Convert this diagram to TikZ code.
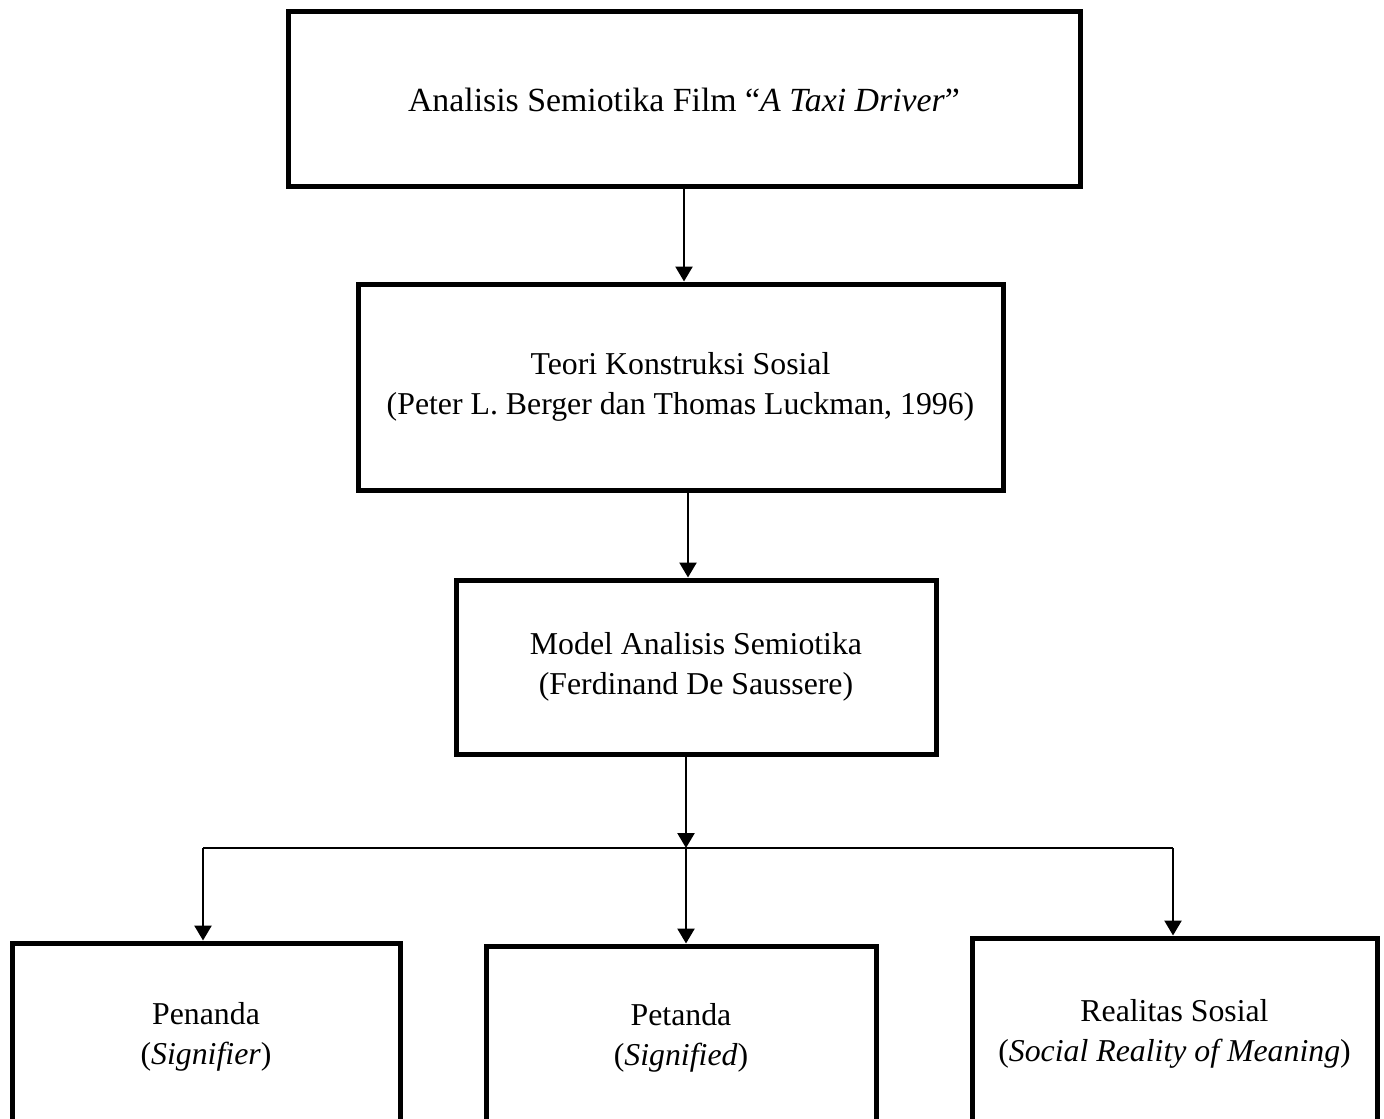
\documentclass[tikz,border=0pt]{standalone}
\usepackage{fontspec}
\setmainfont{Liberation Serif}
\usetikzlibrary{arrows.meta,calc}
\begin{document}
\begin{tikzpicture}[x=0.5pt,y=-0.5pt,
  box/.style={draw,line width=2.5pt,align=center,inner sep=0pt,font=\fontsize{15.9}{20}\selectfont},
  conn/.style={line width=1.25pt,-{Triangle[width=8.5pt,length=7.5pt]}},
  bar/.style={line width=1pt}]
\useasboundingbox (0,0) rectangle (1384,1118);
\node[box,minimum width=396pt,minimum height=87.5pt,font=\fontsize{16.9}{20}\selectfont] (b1) at (684,99.5) {Analisis Semiotika Film “\textit{A Taxi Driver}”};
\node[box,minimum width=322.5pt,minimum height=103pt] (b2) at (680.5,387) {Teori Konstruksi Sosial\\(Peter L. Berger dan Thomas Luckman, 1996)};
\node[box,minimum width=240pt,minimum height=87pt] (b3) at (696,667) {Model Analisis Semiotika\\(Ferdinand De Saussere)};
\node[box,minimum width=194pt,minimum height=94pt] (b4) at (206,1037) {Penanda\\(\textit{Signifier})};
\node[box,minimum width=195pt,minimum height=91.5pt] (b5) at (681,1037.5) {Petanda\\(\textit{Signified})};
\node[box,minimum width=202.5pt,minimum height=96pt] (b6) at (1174.5,1034) {Realitas Sosial\\(\textit{Social Reality of Meaning})};
\coordinate (s1) at (684,0);
\coordinate (s2) at (688,0);
\coordinate (split) at (686,848);
\coordinate (lft) at (203,848);
\coordinate (rgt) at (1173,848);
\draw[conn] (b1.south -| s1) -- (b2.north -| s1);
\draw[conn] (b2.south -| s2) -- (b3.north -| s2);
\draw[conn] (b3.south -| split) -- (split);
\draw[bar] (lft) -- (rgt);
\draw[conn] (lft) -- (b4.north -| lft);
\draw[conn] (split) -- (b5.north -| split);
\draw[conn] (rgt) -- (b6.north -| rgt);
\end{tikzpicture}
\end{document}
